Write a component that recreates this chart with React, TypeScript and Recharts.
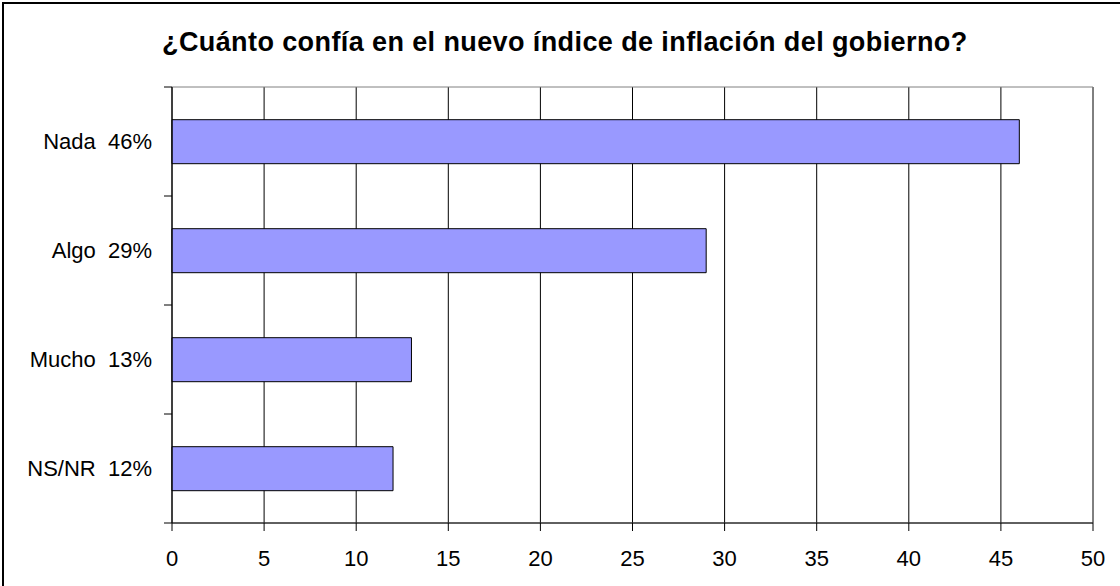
import React from 'react';
import { BarChart, Bar, XAxis, YAxis, CartesianGrid, ReferenceArea } from 'recharts';

const categories = ['Nada  46%', 'Algo  29%', 'Mucho  13%', 'NS/NR  12%'];
const values = [46, 29, 13, 12];
const xTicks = [0, 5, 10, 15, 20, 25, 30, 35, 40, 45, 50];

const data = categories.map((name, i) => ({ name, value: values[i] }));

const FONT = 'Arial, "Liberation Sans", sans-serif';
const W = 1120;
const H = 586;
const TOP = 87;
const BOTTOM_AXIS = 63;
const AXIS_X = 172;
const BAND = (H - TOP - BOTTOM_AXIS) / categories.length;

const CategoryTick = (props: any) => {
  const { y, payload, index } = props;
  return (
    <g>
      <text
        x={AXIS_X - 20}
        y={y}
        dy="0.36em"
        textAnchor="end"
        fontSize={22}
        fontFamily={FONT}
        fill="#000"
        style={{ whiteSpace: 'pre' }}
      >
        {payload.value}
      </text>
      {index === 0 && (
        <line x1={AXIS_X - 8} x2={AXIS_X} y1={y - BAND / 2} y2={y - BAND / 2} stroke="#000" />
      )}
      <line x1={AXIS_X - 8} x2={AXIS_X} y1={y + BAND / 2} y2={y + BAND / 2} stroke="#000" />
    </g>
  );
};

const App: React.FC = () => {
  return (
    <div style={{ position: 'absolute', left: 0, top: 0, width: W, height: H, overflow: 'hidden', background: '#fff' }}>
      <div
        style={{
          position: 'absolute',
          left: 2,
          top: 2,
          width: W + 10,
          height: H + 10,
          borderLeft: '2px solid #000',
          borderTop: '2px solid #000',
        }}
      />
      <div
        style={{
          position: 'absolute',
          left: 162,
          width: 820,
          top: 27,
          fontFamily: FONT,
          fontWeight: 'bold',
          fontSize: 27,
          letterSpacing: 0.4,
          lineHeight: '30px',
          whiteSpace: 'nowrap',
        }}
      >
        ¿Cuánto confía en el nuevo índice de inflación del gobierno?
      </div>
      <div style={{ position: 'absolute', left: 0, top: 0 }}>
        <BarChart
          width={W}
          height={H}
          data={data}
          layout="vertical"
          margin={{ top: TOP, right: 27, bottom: 0, left: 0 }}
          barCategoryGap="30%"
        >
          <CartesianGrid vertical horizontal={false} stroke="#000" />
          <ReferenceArea x1={0} x2={50} stroke="#808080" fill="none" fillOpacity={0} />
          <XAxis
            type="number"
            domain={[0, 50]}
            ticks={xTicks}
            height={BOTTOM_AXIS}
            tickSize={8}
            tickMargin={19}
            stroke="#000"
            tick={{ fill: '#000', fontSize: 22, fontFamily: FONT }}
          />
          <YAxis
            type="category"
            dataKey="name"
            width={AXIS_X}
            tickLine={false}
            stroke="#000"
            tick={<CategoryTick />}
            interval={0}
          />
          <Bar dataKey="value" fill="#9999FF" stroke="#000" strokeWidth={1} isAnimationActive={false} />
        </BarChart>
      </div>
    </div>
  );
};

export default App;
